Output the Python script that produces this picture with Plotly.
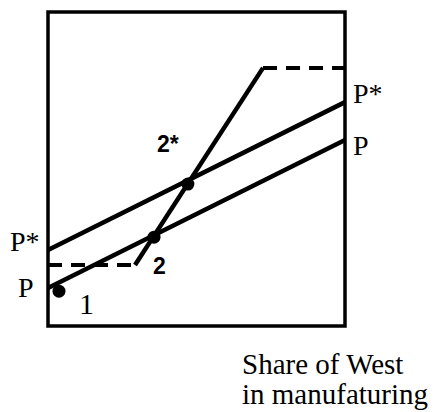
import plotly.graph_objects as go

# Schedules (x = share of West in manufacturing, y = price level), unit box
p_line_x = [0.0, 1.0]
p_line_y = [0.121, 0.592]
pstar_line_x = [0.0, 1.0]
pstar_line_y = [0.242, 0.713]
low_dash_x = [0.0, 0.293]
low_dash_y = [0.194, 0.194]
steep_x = [0.293, 0.724]
steep_y = [0.194, 0.822]
high_dash_x = [0.724, 1.0]
high_dash_y = [0.822, 0.822]
eq_x = [0.037, 0.357, 0.471]
eq_y = [0.111, 0.283, 0.452]
eq_names = ["1", "2", "2*"]

fig = go.Figure()
solid = dict(color="black", width=4.5)
dashed = dict(color="black", width=4, dash="14px,9px")
fig.add_trace(go.Scatter(x=p_line_x, y=p_line_y, mode="lines", line=solid, cliponaxis=False))
fig.add_trace(go.Scatter(x=pstar_line_x, y=pstar_line_y, mode="lines", line=solid, cliponaxis=False))
fig.add_trace(go.Scatter(x=steep_x, y=steep_y, mode="lines", line=solid, cliponaxis=False))
fig.add_trace(go.Scatter(x=low_dash_x, y=low_dash_y, mode="lines", line=dashed, cliponaxis=False))
fig.add_trace(go.Scatter(x=high_dash_x, y=high_dash_y, mode="lines", line=dashed, cliponaxis=False))
fig.add_trace(go.Scatter(x=eq_x, y=eq_y, mode="markers", text=eq_names,
                         marker=dict(color="black", size=13), cliponaxis=False))

serif = "Liberation Serif, Times New Roman, serif"
sans = "Liberation Sans, Arial, sans-serif"
labels = [
    ("P*", -0.077, 0.268, serif, 28, False),
    ("P", -0.074, 0.124, serif, 28, False),
    ("1", 0.131, 0.073, serif, 30, False),
    ("2", 0.377, 0.191, sans, 23, True),
    ("2*", 0.404, 0.580, sans, 23, True),
    ("P*", 1.077, 0.742, serif, 28, False),
    ("P", 1.054, 0.576, serif, 28, False),
]
for txt, lx, ly, fam, sz, bold in labels:
    fig.add_annotation(x=lx, y=ly, xref="paper", yref="paper",
                       text=("<b>%s</b>" % txt) if bold else txt,
                       showarrow=False, font=dict(family=fam, size=sz, color="black"),
                       xanchor="center", yanchor="middle")

fig.add_annotation(x=0.648, y=-0.122, xref="paper", yref="paper", text="Share of West",
                   showarrow=False, xanchor="left", yanchor="middle",
                   font=dict(family=serif, size=29, color="black"))
fig.add_annotation(x=0.648, y=-0.218, xref="paper", yref="paper", text="in manufaturing",
                   showarrow=False, xanchor="left", yanchor="middle",
                   font=dict(family=serif, size=29, color="black"))

fig.add_shape(type="rect", xref="paper", yref="paper", x0=0, x1=1, y0=0, y1=1,
              line=dict(color="black", width=3.5))

fig.update_layout(
    width=440, height=412,
    margin=dict(l=48, r=95, t=12, b=86),
    paper_bgcolor="white", plot_bgcolor="white",
    showlegend=False,
    xaxis=dict(range=[0, 1], visible=False, fixedrange=True),
    yaxis=dict(range=[0, 1], visible=False, fixedrange=True),
)
fig.write_html("out.html", config={"displayModeBar": False},
               post_script="document.body.style.margin='0';document.body.style.overflow='hidden';")
